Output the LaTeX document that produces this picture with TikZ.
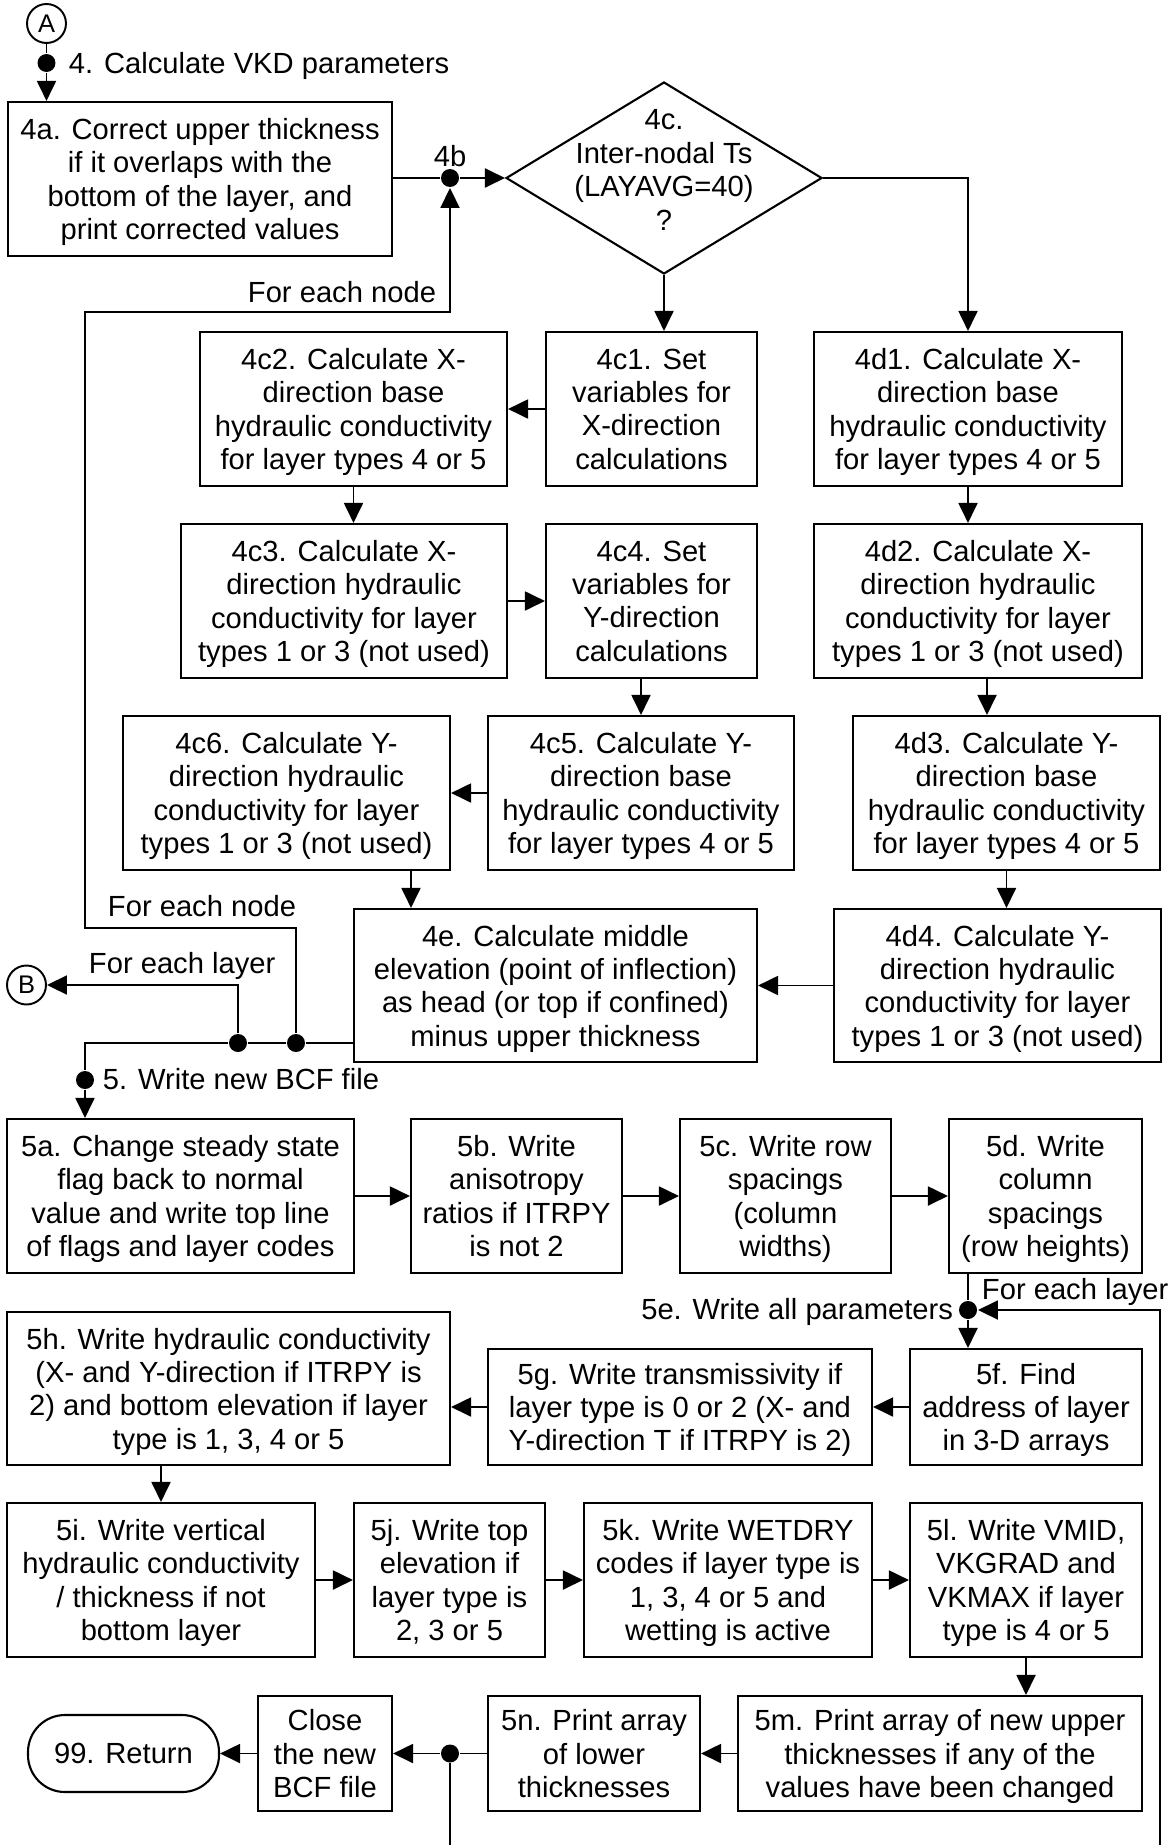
\documentclass[tikz,border=0pt]{standalone}
\usepackage{fontspec}
\setmainfont{Liberation Sans}
\usetikzlibrary{arrows.meta,shapes.geometric}
\newcommand\mainsz{\fontsize{16.6pt}{19pt}\selectfont}
\newcommand\connsz{\fontsize{14.5pt}{17pt}\selectfont}
\begin{document}
\begin{tikzpicture}[x=0.02cm,y=-0.02cm,
  line width=1.1pt,
  box/.style={draw,line width=1.2pt,align=center,inner sep=0pt,font=\mainsz,text depth=-2.2pt},
  wh/.style 2 args={minimum width=#1*0.02cm,minimum height=#2*0.02cm},
  lbl/.style={inner sep=0pt,font=\mainsz},
  conn/.style={circle,draw,line width=1.1pt,minimum size=0.78cm,inner sep=0pt,font=\connsz},
  jdot/.style={circle,fill=black,inner sep=0pt,minimum size=0.36cm},
  arr/.style={-{Triangle[length=0.4cm,width=0.38cm]}}]
\useasboundingbox (0,0) rectangle (1173,1845);

% connectors to other pages
\node[conn] (A) at (46.5,23.5) {A};
\node[conn] (B) at (26.5,985) {B};

% step 4 boxes
\node[box,wh={384}{154}] (b4a) at (200,179) {4a. Correct upper thickness\\if it overlaps with the\\bottom of the layer, and\\print corrected values};
\node[diamond,draw,line width=1.2pt,inner sep=0pt,minimum width=6.32cm,minimum height=3.84cm] (c4) at (664,178) {};
\node[lbl,align=center] (c4t) at (664,170) {4c.\\Inter-nodal Ts\\(LAYAVG=40)\\?};
\node[box,wh={307}{154}] (b4c2) at (353.5,409) {4c2. Calculate X-\\direction base\\hydraulic conductivity\\for layer types 4 or 5};
\node[box,wh={211}{154}] (b4c1) at (651.5,409) {4c1. Set\\variables for\\X-direction\\calculations};
\node[box,wh={308}{154}] (b4d1) at (968,409) {4d1. Calculate X-\\direction base\\hydraulic conductivity\\for layer types 4 or 5};
\node[box,wh={326}{154}] (b4c3) at (344,601) {4c3. Calculate X-\\direction hydraulic\\conductivity for layer\\types 1 or 3 (not used)};
\node[box,wh={211}{154}] (b4c4) at (651.5,601) {4c4. Set\\variables for\\Y-direction\\calculations};
\node[box,wh={328}{154}] (b4d2) at (978,601) {4d2. Calculate X-\\direction hydraulic\\conductivity for layer\\types 1 or 3 (not used)};
\node[box,wh={327}{154}] (b4c6) at (286.5,793) {4c6. Calculate Y-\\direction hydraulic\\conductivity for layer\\types 1 or 3 (not used)};
\node[box,wh={306}{154}] (b4c5) at (641,793) {4c5. Calculate Y-\\direction base\\hydraulic conductivity\\for layer types 4 or 5};
\node[box,wh={307}{154}] (b4d3) at (1006.5,793) {4d3. Calculate Y-\\direction base\\hydraulic conductivity\\for layer types 4 or 5};
\node[box,wh={403}{153}] (b4e) at (555.5,985.5) {4e. Calculate middle\\elevation (point of inflection)\\as head (or top if confined)\\minus upper thickness};
\node[box,wh={327}{153}] (b4d4) at (997.5,985.5) {4d4. Calculate Y-\\direction hydraulic\\conductivity for layer\\types 1 or 3 (not used)};

% step 5 boxes
\node[box,wh={347}{154}] (b5a) at (180.5,1196) {5a. Change steady state\\flag back to normal\\value and write top line\\of flags and layer codes};
\node[box,wh={211}{154}] (b5b) at (516.5,1196) {5b. Write\\anisotropy\\ratios if ITRPY\\is not 2};
\node[box,wh={211}{154}] (b5c) at (785.5,1196) {5c. Write row\\spacings\\(column\\widths)};
\node[box,wh={193}{154}] (b5d) at (1045.5,1196) {5d. Write\\column\\spacings\\(row heights)};
\node[box,wh={443}{153}] (b5h) at (228.5,1388.5) {5h. Write hydraulic conductivity\\(X- and Y-direction if ITRPY is\\2) and bottom elevation if layer\\type is 1, 3, 4 or 5};
\node[box,wh={384}{116}] (b5g) at (680,1407) {5g. Write transmissivity if\\layer type is 0 or 2 (X- and\\Y-direction T if ITRPY is 2)};
\node[box,wh={232}{116}] (b5f) at (1026,1407) {5f. Find\\address of layer\\in 3-D arrays};
\node[box,wh={308}{154}] (b5i) at (161,1580) {5i. Write vertical\\hydraulic conductivity\\/ thickness if not\\bottom layer};
\node[box,wh={191}{154}] (b5j) at (449.5,1580) {5j. Write top\\elevation if\\layer type is\\2, 3 or 5};
\node[box,wh={288}{154}] (b5k) at (728,1580) {5k. Write WETDRY\\codes if layer type is\\1, 3, 4 or 5 and\\wetting is active};
\node[box,wh={232}{154}] (b5l) at (1026,1580) {5l. Write VMID,\\VKGRAD and\\VKMAX if layer\\type is 4 or 5};
\node[box,wh={404}{115}] (b5m) at (940,1753.5) {5m. Print array of new upper\\thicknesses if any of the\\values have been changed};
\node[box,wh={212}{115}] (b5n) at (594,1753.5) {5n. Print array\\of lower\\thicknesses};
\node[box,wh={134}{115}] (bcl) at (325,1753.5) {Close\\the new\\BCF file};
\node[box,wh={191}{77},rounded corners=0.74cm] (ret) at (123.5,1753.5) {99. Return};

% junction dots
\node[jdot] (dA) at (46.5,63) {};
\node[jdot] (d4b) at (450,178) {};
\node[jdot] (dN) at (296,1043) {};
\node[jdot] (dL) at (238,1043) {};
\node[jdot] (d5) at (85,1080) {};
\node[jdot] (d5e) at (968,1310) {};
\node[jdot] (d5n) at (450,1753.5) {};

% bends and free ends
\coordinate (n1) at (296,928);
\coordinate (n2) at (85,928);
\coordinate (n3) at (85,312);
\coordinate (n4) at (450,312);
\coordinate (l1) at (238,985);
\coordinate (m1) at (85,1043);
\coordinate (x411) at (411,0);
\coordinate (x987) at (987,0);
\coordinate (rt) at (1160,1310);
\coordinate (rb) at (1160,1845);
\coordinate (nb) at (450,1845);

% labels
\node[lbl,anchor=base west] (t4) at (68,74) {4. Calculate VKD parameters};
\node[lbl,anchor=base] (t4b) at (450,167) {4b};
\node[lbl,anchor=base east] (tN1) at (437,302) {For each node};
\node[lbl,anchor=base west] (tN2) at (107,916) {For each node};
\node[lbl,anchor=base west] (tL1) at (88,973) {For each layer};
\node[lbl,anchor=base west] (t5) at (102,1089) {5. Write new BCF file};
\node[lbl,anchor=base east] (t5e) at (954,1319) {5e. Write all parameters};
\node[lbl,anchor=base west] (tL2) at (981,1299) {For each layer};

% step 4 flow
\draw (A) -- (dA);
\draw[arr] (dA) -- (dA |- b4a.north);
\draw (b4a.east |- d4b) -- (d4b);
\draw[arr] (d4b) -- (c4.west);
\draw[arr] (c4.east) -| (b4d1.north);
\draw[arr] (c4.south) -- (c4.south |- b4c1.north);
\draw[arr] (b4c1) -- (b4c2);
\draw[arr] (b4c2.south) -- (b4c2.south |- b4c3.north);
\draw[arr] (b4c3) -- (b4c4);
\draw[arr] (b4c5.north |- b4c4.south) -- (b4c5.north);
\draw[arr] (b4c5) -- (b4c6);
\draw[arr] (b4c6.south -| x411) -- (b4e.north -| x411);
\draw[arr] (b4d1.south) -- (b4d1.south |- b4d2.north);
\draw[arr] (b4d2.south -| x987) -- (b4d3.north -| x987);
\draw[arr] (b4d3.south) -- (b4d3.south |- b4d4.north);
\draw[arr] (b4d4) -- (b4e);

% loops and step 5 entry
\draw (b4e.west |- dN) -- (dN) -- (dL) -- (m1) -- (d5);
\draw[arr] (dN) -- (n1) -- (n2) -- (n3) -- (n4) -- (d4b);
\draw[arr] (dL) -- (l1) -- (B);
\draw[arr] (d5) -- (d5 |- b5a.north);

% step 5 flow
\draw[arr] (b5a) -- (b5b);
\draw[arr] (b5b) -- (b5c);
\draw[arr] (b5c) -- (b5d);
\draw (b5d.south -| d5e) -- (d5e);
\draw[arr] (d5e) -- (d5e |- b5f.north);
\draw[arr] (rb) -- (rt) -- (d5e);
\draw[arr] (b5f) -- (b5g);
\draw[arr] (b5g.west) -- (b5g.west -| b5h.east);
\draw[arr] (b5h.south -| b5i.north) -- (b5i.north);
\draw[arr] (b5i) -- (b5j);
\draw[arr] (b5j) -- (b5k);
\draw[arr] (b5k) -- (b5l);
\draw[arr] (b5l.south) -- (b5l.south |- b5m.north);
\draw[arr] (b5m) -- (b5n);
\draw (b5n) -- (d5n);
\draw[arr] (d5n) -- (bcl);
\draw (d5n) -- (nb);
\draw[arr] (bcl) -- (ret);
\end{tikzpicture}
\end{document}
